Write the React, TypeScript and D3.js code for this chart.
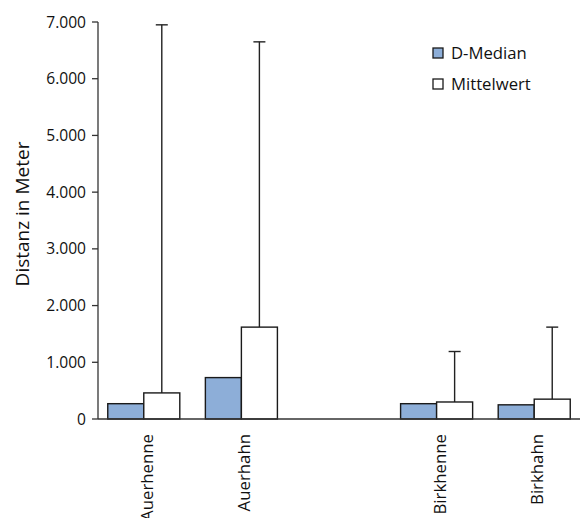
import React from "react";
import * as d3 from "d3";

const categories = ["Auerhenne", "Auerhahn", "", "Birkhenne", "Birkhahn"];
const medianValues = [270, 730, null, 270, 250];
const meanValues = [460, 1620, null, 300, 350];
const errorTops = [6950, 6650, null, 1190, 1620];
const yTicks = [0, 1000, 2000, 3000, 4000, 5000, 6000, 7000];
const seriesNames = ["D-Median", "Mittelwert"];

const W = 582;
const H = 518;
const FONT = "'Open Sans', sans-serif";

export default function App() {
  const x0 = 98;
  const x1 = 580;
  const yTop = 22;
  const yBottom = 419;

  const keys = categories.map((c, i) => c + "_" + i);
  const x = d3.scaleBand<string>().domain(keys).range([x0, x1]).paddingInner(0.262).paddingOuter(0.1);
  const y = d3.scaleLinear().domain([0, 7000]).range([yBottom, yTop]);
  const fmt = (v: number) => d3.format(",")(v).replace(/,/g, ".");

  const sub = d3.scaleBand<string>().domain(["m", "a"]).range([0, x.bandwidth()]);

  return (
    <svg width={W} height={H} style={{ display: "block", position: "absolute", left: 0, top: 0 }} fontFamily={FONT}>
      <rect width={W} height={H} fill="#fff" />
      {/* y axis */}
      <line x1={x0} x2={x0} y1={yTop} y2={yBottom} stroke="#333" strokeWidth={1.3} />
      {yTicks.map((t) => (
        <g key={t}>
          <line x1={x0 - 6} x2={x0} y1={y(t)} y2={y(t)} stroke="#333" strokeWidth={1.3} />
          <text x={x0 - 12} y={y(t)} dy="0.36em" textAnchor="end" fontSize={15.6} fill="#111">
            {fmt(t)}
          </text>
        </g>
      ))}
      <text transform={`translate(22,214) rotate(-90)`} textAnchor="middle" dy="0.35em" fontSize={19} fill="#111">
        Distanz in Meter
      </text>
      {/* bars */}
      {keys.map((k, i) => {
        if (medianValues[i] == null) return null;
        const bx = x(k)!;
        const mx = bx + sub("m")!;
        const ax = bx + sub("a")!;
        const bw = sub.bandwidth();
        const cx = ax + bw / 2;
        return (
          <g key={k}>
            <line x1={cx} x2={cx} y1={y(errorTops[i]!)} y2={y(meanValues[i]!)} stroke="#222" strokeWidth={1.4} />
            <line x1={cx - 6} x2={cx + 6} y1={y(errorTops[i]!)} y2={y(errorTops[i]!)} stroke="#222" strokeWidth={1.4} />
            <rect x={mx} y={y(medianValues[i]!)} width={bw} height={yBottom - y(medianValues[i]!)} fill="#8DAED8" stroke="#1a1a1a" strokeWidth={1.4} />
            <rect x={ax} y={y(meanValues[i]!)} width={bw} height={yBottom - y(meanValues[i]!)} fill="#fff" stroke="#1a1a1a" strokeWidth={1.4} />
            <text transform={`translate(${bx + x.bandwidth() / 2 + 3},${yBottom + 15}) rotate(-90)`} textAnchor="end" dy="0.35em" fontSize={16.8} fill="#111">
              {categories[i]}
            </text>
          </g>
        );
      })}
      {/* x axis */}
      <line x1={x0} x2={x1} y1={yBottom} y2={yBottom} stroke="#333" strokeWidth={1.3} />
      {/* legend */}
      {seriesNames.map((s, i) => (
        <g key={s} transform={`translate(433,${48 + i * 31})`}>
          <rect x={0} y={0} width={10} height={10} fill={i === 0 ? "#8DAED8" : "#fff"} stroke="#1a1a1a" strokeWidth={1.3} />
          <text x={18} y={5} dy="0.36em" fontSize={16.7} fill="#111">
            {s}
          </text>
        </g>
      ))}
    </svg>
  );
}
